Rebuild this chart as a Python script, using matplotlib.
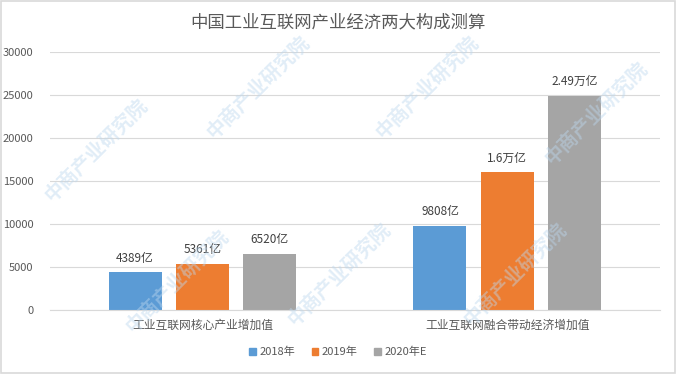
import numpy as np
import matplotlib
matplotlib.use("Agg")
import matplotlib.pyplot as plt
import matplotlib.patches as mpatches

plt.rcParams["font.family"] = ["Noto Sans CJK SC", "DejaVu Sans"]

# ── data ─────────────────────────────────────────────
categories = ["工业互联网核心产业增加值", "工业互联网融合带动经济增加值"]
series_names = ["2018年", "2019年", "2020年E"]
values_2018 = [4389, 9808]
values_2019 = [5361, 16000]
values_2020 = [6520, 24900]
labels_2018 = ["4389亿", "9808亿"]
labels_2019 = ["5361亿", "1.6万亿"]
labels_2020 = ["6520亿", "2.49万亿"]
yticks = [0, 5000, 10000, 15000, 20000, 25000, 30000]

COLORS = ["#5B9BD5", "#ED7D31", "#A5A5A5"]
TXT = "#595959"

fig = plt.figure(figsize=(6.76, 3.74), dpi=100)
fig.patch.set_facecolor("white")
ax = fig.add_axes([0.074, 0.171, 0.902, 0.690])

x = np.arange(len(categories))
w = 0.174
step = 0.221
all_vals = [values_2018, values_2019, values_2020]
all_lbls = [labels_2018, labels_2019, labels_2020]
for i, (vals, lbls) in enumerate(zip(all_vals, all_lbls)):
    pos = x + (i - 1) * step
    bars = ax.bar(pos, vals, width=w, color=COLORS[i], zorder=2,
                  label=series_names[i])
    for b, t in zip(bars, lbls):
        ax.text(b.get_x() + b.get_width() / 2, b.get_height() + 900, t,
                ha="center", va="bottom", fontsize=8.5, color="#404040")

ax.set_xlim(-0.5, 1.5)
ax.set_ylim(0, 30000)
ax.set_yticks(yticks)
ax.set_yticklabels([str(v) for v in yticks])
ax.set_xticks(x)
ax.set_xticklabels(categories)
ax.yaxis.grid(True, color="#d9d9d9", linewidth=0.8, zorder=0)
ax.set_axisbelow(True)
for s in ["top", "right", "left"]:
    ax.spines[s].set_visible(False)
ax.spines["bottom"].set_color("#d9d9d9")
ax.tick_params(axis="both", length=0, colors=TXT, labelsize=8)
ax.tick_params(axis="x", labelsize=8.5, pad=6)
ax.tick_params(axis="y", pad=12)

# faint watermark (kept inside the picture)
for wx, wy in [(0.06, 0.45), (0.30, 0.62), (0.55, 0.62), (0.80, 0.55),
               (0.18, 0.10), (0.42, 0.12), (0.68, 0.12)]:
    fig.text(wx, wy, "中商产业研究院", rotation=45, fontsize=14,
             color="#bcd7ee", alpha=0.45, ha="left", va="bottom",
             fontweight="bold")

fig.text(0.5, 0.94, "中国工业互联网产业经济两大构成测算", ha="center", va="center",
         fontsize=12.5, color=TXT)

handles = [mpatches.Patch(color=c, label=n) for c, n in zip(COLORS, series_names)]
fig.legend(handles=handles, loc="center", bbox_to_anchor=(0.5, 0.058), ncol=3,
           frameon=False, fontsize=8, handlelength=0.6, handleheight=0.6,
           handletextpad=0.3, columnspacing=1.5, labelcolor=TXT)

border = mpatches.Rectangle((0.002, 0.003), 0.996, 0.994, transform=fig.transFigure,
                            fill=False, edgecolor="#d9d9d9", linewidth=1.2)
fig.patches.append(border)

fig.savefig("out.png", dpi=100, facecolor="white")
